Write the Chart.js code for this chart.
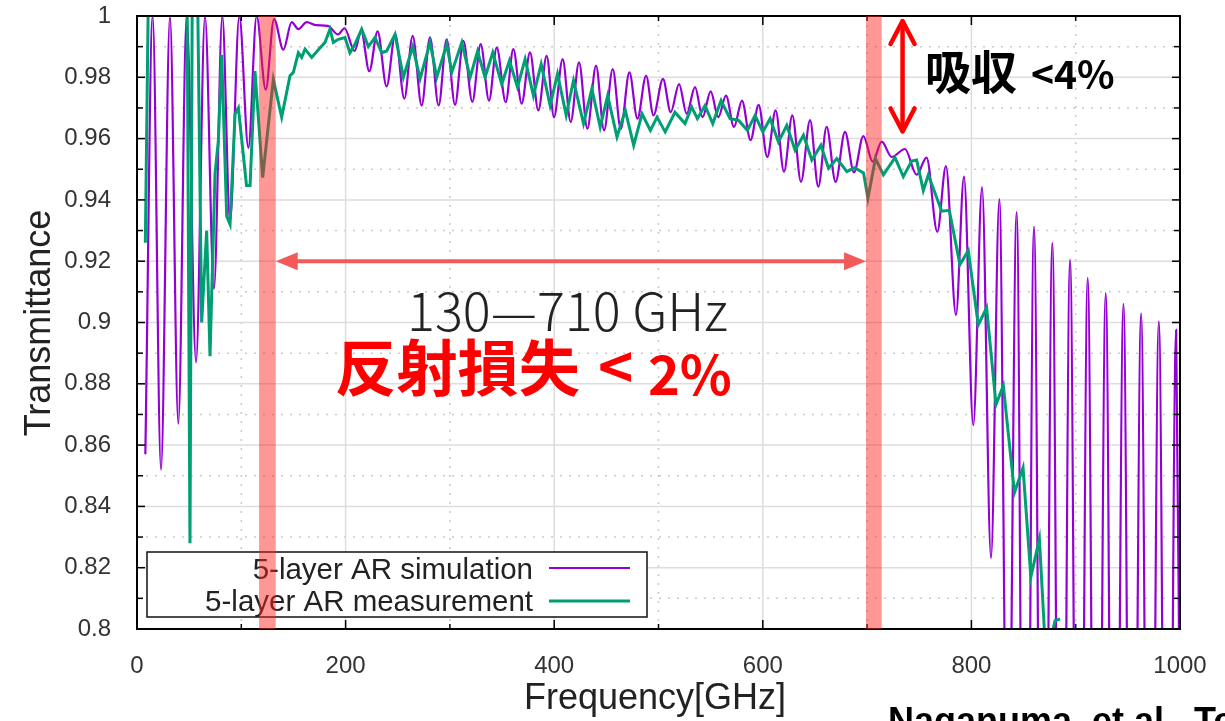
<!DOCTYPE html>
<html>
<head>
<meta charset="utf-8">
<script src="https://cdn.jsdelivr.net/npm/chart.js@4.4.1/dist/chart.umd.min.js"></script>
<style>
  html, body { margin: 0; padding: 0; background: #fff; }
</style>
</head>
<body>
<canvas id="chart" width="1225" height="721"></canvas>
<script>
// ==================================
// Data
// ==================================
const simFreq = [8,15,23,31.6,39.6,47.6,56.6,65.2,73.8,81.8,89.2,98.1,106.8,114.7,123.4,131.4,140.3,148.3,154.7,162.7,172,183,192.7,199,208.6,215,222.7,230.7,239.3,247.6,256.3,264.3,272.9,280.9,289.2,296.9,304.9,312.9,321.5,329.5,337.5,344.9,353.5,360.8,368.8,376.8,384.8,392.8,399.8,408.1,415.8,423.8,431.8,440.1,447.8,456.1,463.8,472.1,479.8,488.1,495.2,504.3,511.7,519.7,527,535,542.3,550,557.3,564.7,572.4,580,588.3,596,604.3,612.3,620.3,628.3,636.6,645.3,653.2,661.2,669.8,678.8,687.4,696.4,705.4,714,723.6,736.3,747.5,757,767.3,775.6,785.2,792.9,801.8,810.2,818.8,826.8,835,843.4,851.7,860,868.8,877.6,886,894.6,903,911.5,920,928.8,937,945.8,954,962.7,971,979.7,988,996.3,1000];
const simT = [0.857,1.0,0.852,1.0,0.867,1.0,0.887,1.0,0.911,1.0,0.933,1.0,0.957,1.0,0.976,0.999,0.989,0.998,0.9957,0.998,0.997,0.9968,0.994,0.996,0.9886,0.995,0.982,0.995,0.977,0.994,0.973,0.9935,0.9708,0.993,0.9708,0.9924,0.971,0.9919,0.972,0.9908,0.9724,0.9897,0.9719,0.9892,0.9714,0.9881,0.9692,0.987,0.967,0.9859,0.9654,0.9849,0.9632,0.9838,0.9627,0.9827,0.9632,0.9816,0.9665,0.9805,0.9676,0.9795,0.9686,0.9778,0.9681,0.9768,0.967,0.9754,0.967,0.974,0.9638,0.9724,0.9595,0.971,0.954,0.9692,0.9492,0.9676,0.9459,0.966,0.9443,0.9638,0.9459,0.9622,0.949,0.9608,0.9525,0.959,0.954,0.9566,0.9482,0.9538,0.9296,0.951,0.9025,0.9476,0.8665,0.9442,0.8231,0.9403,0.72,0.936,0.6,0.9313,0.6,0.926,0.6,0.9205,0.6,0.9146,0.6,0.9096,0.6,0.9061,0.6,0.903,0.6,0.9004,0.6,0.8976,0.75];

const measFreq = [8,11,20,30,40,48,50.8,53,58,62,66.8,70,74.8,78,81.2,86,89.2,94,97.2,105,108.4,113.1,120.5,130.7,138.7,146.7,149.9,154.7,157.9,161.1,167.5,173.9,180.3,185,188.3,193,199.4,204.2,209,215.4,221.8,228.2,234.6,239.4,247.4,255.4,264.4,271.4,281,287.4,297,301.8,311.4,319.4,326.5,333.7,341.1,349.7,357.1,364.8,372.1,380.1,387.5,396.1,403.2,411.5,418.5,428.1,436.1,444.1,451.3,460.2,468.2,476.2,484.2,492.2,498.6,506.4,515.8,525.4,531.8,537.3,544.6,552,560,568.6,576.6,585.2,592.6,600,607,615,623,631,639,647,655.7,663,671,680.6,688,696.6,700.8,708,715.6,726.8,734.7,742.7,747.5,753.9,758.7,771.5,778.8,789,797,806.6,814.6,823.6,830.6,841.3,849.5,857,865.2,871.5,880.2,885];
const measT = [0.926,1.01,1.01,1.01,1.01,1.01,0.828,1.01,1.01,0.90,0.930,0.889,0.9487,0.9593,0.9873,0.9347,0.932,0.968,0.97,0.9447,0.9447,0.982,0.9473,0.9793,0.967,0.9805,0.9816,0.988,0.9865,0.9892,0.9865,0.989,0.9914,0.9957,0.9914,0.9924,0.993,0.988,0.9908,0.9957,0.990,0.993,0.988,0.9886,0.994,0.980,0.990,0.9795,0.9914,0.980,0.9908,0.9816,0.9914,0.980,0.9885,0.980,0.9881,0.9778,0.9854,0.9768,0.9859,0.974,0.9843,0.9708,0.9811,0.9676,0.9789,0.9649,0.9762,0.9638,0.974,0.9605,0.9692,0.9578,0.9681,0.9627,0.967,0.9622,0.9686,0.9649,0.9703,0.9665,0.9708,0.9649,0.9724,0.9665,0.966,0.9627,0.9676,0.9622,0.9665,0.9589,0.9643,0.9562,0.9611,0.953,0.9578,0.9503,0.9535,0.9492,0.9505,0.9488,0.9405,0.9535,0.9482,0.9538,0.9476,0.9527,0.953,0.9431,0.9482,0.9363,0.9366,0.9189,0.9234,0.8992,0.9048,0.8732,0.8794,0.8445,0.8526,0.817,0.8294,0.79,0.8027,0.8033];

const xTickValues = [0, 200, 400, 600, 800, 1000];
const yTickValues = [0.8, 0.82, 0.84, 0.86, 0.88, 0.9, 0.92, 0.94, 0.96, 0.98, 1];
const xMinorValues = [100, 300, 500, 700, 900];
const yMinorValues = [0.81, 0.83, 0.85, 0.87, 0.89, 0.91, 0.93, 0.95, 0.97, 0.99];

const bandRanges = [[117, 133], [699, 714]]; // GHz
const seriesLabels = ["5-layer AR simulation", "5-layer AR measurement"];

const PURPLE = "#9400d3";
const GREEN = "#009e73";
const SANS = "'Liberation Sans', Arial, sans-serif";
const CJK = "'Noto Sans CJK JP', 'Noto Sans CJK SC', sans-serif";

// fit text into a given width
function fitText(ctx, text, x, y, w, weight, family, color) {
  ctx.font = `${weight} 100px ${family}`;
  const size = (100 * w) / ctx.measureText(text).width;
  ctx.font = `${weight} ${size}px ${family}`;
  ctx.fillStyle = color;
  ctx.textAlign = "left";
  ctx.textBaseline = "alphabetic";
  ctx.fillText(text, x, y);
}

function text(ctx, str, x, y, font, color) {
  ctx.font = font;
  ctx.fillStyle = color;
  ctx.textAlign = "left";
  ctx.textBaseline = "alphabetic";
  ctx.fillText(str, x, y);
}

function line(ctx, x1, y1, x2, y2) {
  ctx.beginPath();
  ctx.moveTo(x1, y1);
  ctx.lineTo(x2, y2);
  ctx.stroke();
}

// ==================================
// Grid, frame, legend, annotations
// ==================================
const paperPlugin = {
  id: "paper",
  beforeDatasetsDraw(chart) {
    const { ctx, chartArea: a, scales } = chart;
    const xs = scales.x, ys = scales.y;
    ctx.save();
    ctx.lineWidth = 1.5;
    // minor dotted
    ctx.strokeStyle = "#c9c9c9";
    ctx.setLineDash([2, 7]);
    xMinorValues.forEach((v) => { const p = xs.getPixelForValue(v); line(ctx, p, a.top, p, a.bottom); });
    yMinorValues.forEach((v) => { const p = ys.getPixelForValue(v); line(ctx, a.left, p, a.right, p); });
    // major solid
    ctx.setLineDash([]);
    ctx.strokeStyle = "#dddddd";
    xTickValues.slice(1, -1).forEach((v) => { const p = xs.getPixelForValue(v); line(ctx, p, a.top, p, a.bottom); });
    yTickValues.slice(1, -1).forEach((v) => { const p = ys.getPixelForValue(v); line(ctx, a.left, p, a.right, p); });
    ctx.restore();
  },
  afterDatasetsDraw(chart) {
    const { ctx, chartArea: a, scales } = chart;
    const xs = scales.x, ys = scales.y;
    ctx.save();

    // legend box (opaque)
    ctx.fillStyle = "#fff";
    ctx.fillRect(147, 552, 500, 65);
    ctx.strokeStyle = "#111";
    ctx.lineWidth = 1.5;
    ctx.strokeRect(147, 552, 500, 65);
    ctx.font = `29.5px ${SANS}`;
    ctx.fillStyle = "#222";
    ctx.textAlign = "right";
    ctx.textBaseline = "alphabetic";
    ctx.fillText(seriesLabels[0], 533, 579);
    ctx.fillText(seriesLabels[1], 533, 611);
    ctx.strokeStyle = PURPLE; ctx.lineWidth = 2;
    line(ctx, 549, 568, 630, 568);
    ctx.strokeStyle = GREEN; ctx.lineWidth = 3;
    line(ctx, 549, 601, 630, 601);

    // frame + inward ticks
    ctx.strokeStyle = "#000";
    ctx.lineWidth = 2;
    ctx.strokeRect(a.left, a.top, a.right - a.left, a.bottom - a.top);
    ctx.lineWidth = 1.5;
    const tickX = (vals, len) => vals.forEach((v) => {
      const p = xs.getPixelForValue(v);
      line(ctx, p, a.bottom, p, a.bottom - len);
      line(ctx, p, a.top, p, a.top + len);
    });
    const tickY = (vals, len) => vals.forEach((v) => {
      const p = ys.getPixelForValue(v);
      line(ctx, a.left, p, a.left + len, p);
      line(ctx, a.right, p, a.right - len, p);
    });
    tickX(xTickValues, 9); tickX(xMinorValues, 5);
    tickY(yTickValues, 8); tickY(yMinorValues, 6);

    // red bands at band edges
    ctx.fillStyle = "rgba(255, 35, 35, 0.47)";
    bandRanges.forEach(([f0, f1]) => {
      const x0 = xs.getPixelForValue(f0), x1 = xs.getPixelForValue(f1);
      ctx.fillRect(x0, a.top, x1 - x0, a.bottom - a.top);
    });

    // horizontal double arrow between the bands
    const hx0 = xs.getPixelForValue(bandRanges[0][1]);
    const hx1 = xs.getPixelForValue(bandRanges[1][0]);
    const hy = ys.getPixelForValue(0.92);
    ctx.strokeStyle = "#f25a5a";
    ctx.fillStyle = "#f25a5a";
    ctx.lineWidth = 4;
    line(ctx, hx0 + 15, hy, hx1 - 15, hy);
    ctx.beginPath();
    ctx.moveTo(hx0, hy); ctx.lineTo(hx0 + 22, hy - 9); ctx.lineTo(hx0 + 22, hy + 9); ctx.closePath();
    ctx.moveTo(hx1, hy); ctx.lineTo(hx1 - 22, hy - 9); ctx.lineTo(hx1 - 22, hy + 9); ctx.closePath();
    ctx.fill();

    // vertical double arrow (absorption)
    const vx = xs.getPixelForValue(734);
    const vy0 = ys.getPixelForValue(0.9987);
    const vy1 = ys.getPixelForValue(0.962);
    ctx.strokeStyle = "#ff0000";
    ctx.lineWidth = 4.5;
    ctx.lineCap = "round";
    ctx.lineJoin = "round";
    line(ctx, vx, vy0 + 2, vx, vy1 - 2);
    ctx.beginPath();
    ctx.moveTo(vx - 12, vy0 + 24); ctx.lineTo(vx, vy0 + 1); ctx.lineTo(vx + 12, vy0 + 24);
    ctx.moveTo(vx - 12, vy1 - 24); ctx.lineTo(vx, vy1 - 1); ctx.lineTo(vx + 12, vy1 - 24);
    ctx.stroke();

    // annotation texts
    fitText(ctx, "130—710 GHz", 407, 331, 321, "300", CJK, "#222");
    fitText(ctx, "反射損失", 335, 391, 245, "700", CJK, "#ff0000");
    text(ctx, "<", 598, 390, `700 60px ${CJK}`, "#ff0000");
    text(ctx, "2%", 648, 395, `700 54px ${CJK}`, "#ff0000");
    fitText(ctx, "吸収", 925, 89, 92, "700", CJK, "#000");
    text(ctx, "<4%", 1031, 89, `700 39px ${CJK}`, "#000");

    ctx.restore();
  },
  afterDraw(chart) {
    const { ctx } = chart;
    ctx.save();
    ctx.fillStyle = "#222";
    ctx.font = `36px ${SANS}`;
    ctx.textAlign = "center";
    ctx.textBaseline = "alphabetic";
    ctx.fillText("Frequency[GHz]", 655, 709);
    ctx.translate(50, 323);
    ctx.rotate(-Math.PI / 2);
    ctx.fillText("Transmittance", 0, 0);
    ctx.restore();

    ctx.save();
    ctx.fillStyle = "#000";
    ctx.font = `bold 36px ${SANS}`;
    ctx.textAlign = "left";
    ctx.fillText("Naganuma, et al., Te", 888, 733);
    ctx.restore();
  },
};

// ==================================
// Chart
// ==================================
const ctx = document.getElementById("chart");

new Chart(ctx, {
  type: "line",
  data: {
    datasets: [
      {
        label: seriesLabels[1],
        data: measFreq.map((f, i) => ({ x: f, y: measT[i] })),
        borderColor: GREEN,
        borderWidth: 3,
        pointRadius: 0,
        tension: 0,
      },
      {
        label: seriesLabels[0],
        data: simFreq.map((f, i) => ({ x: f, y: simT[i] })),
        borderColor: PURPLE,
        borderWidth: 2.2,
        pointRadius: 0,
        cubicInterpolationMode: "monotone",
      },
    ],
  },
  options: {
    responsive: false,
    animation: false,
    events: [],
    layout: { padding: { top: 0, right: 45, bottom: 0, left: 0 } },
    plugins: {
      legend: { display: false },
      tooltip: { enabled: false },
    },
    scales: {
      x: {
        type: "linear",
        min: 0,
        max: 1000,
        grid: { display: false },
        border: { display: false },
        afterBuildTicks: (s) => { s.ticks = xTickValues.map((v) => ({ value: v })); },
        afterFit: (s) => { s.height = 92; },
        ticks: {
          padding: 15,
          color: "#333",
          font: { family: SANS, size: 24 },
          maxRotation: 0,
          callback: (v) => String(v),
        },
      },
      y: {
        min: 0.8,
        max: 1,
        grid: { display: false },
        border: { display: false },
        afterBuildTicks: (s) => { s.ticks = yTickValues.map((v) => ({ value: v })); },
        afterFit: (s) => { s.width = 137; s.paddingTop = 16; },
        ticks: {
          padding: 18,
          color: "#333",
          font: { family: SANS, size: 24 },
          callback: (v) => String(+Number(v).toFixed(2)),
        },
      },
    },
  },
  plugins: [paperPlugin],
});
</script>
</body>
</html>
